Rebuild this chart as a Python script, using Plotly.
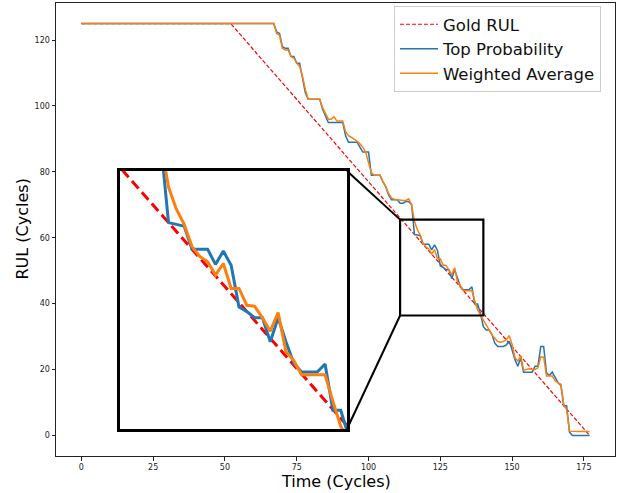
import plotly.graph_objects as go

cycles = list(range(0, 178))

top_probability = [
    125, 125, 125, 125, 125, 125, 125, 125, 125, 125,
    125, 125, 125, 125, 125, 125, 125, 125, 125, 125,
    125, 125, 125, 125, 125, 125, 125, 125, 125, 125,
    125, 125, 125, 125, 125, 125, 125, 125, 125, 125,
    125, 125, 125, 125, 125, 125, 125, 125, 125, 125,
    125, 125, 125, 125, 125, 125, 125, 125, 125, 125,
    125, 125, 125, 125, 125, 125, 125, 125,
    122.5, 122, 118, 117.5, 117.5, 115, 115, 113, 113, 109,
    104, 102, 102, 102, 102, 102, 99, 97, 95, 95,
    95, 95, 95, 95, 91, 89, 89, 89, 89, 87.5,
    86, 86, 86, 79, 79, 79, 79, 77, 75.5, 73,
    71.5, 71.5, 71.5, 70.5, 70.5, 71, 71, 70, 61, 60.8,
    60.6, 58, 58, 58, 56.3, 57.8, 56.2, 51.5, 51, 50.3,
    50.3, 47.6, 50.3, 47.6, 45.2, 44.2, 44.2, 44.2, 45.1, 39.9,
    39.9, 37, 33, 32, 32, 30.6, 28, 27, 27, 27,
    27.5, 28.6, 26, 23, 21, 23.5, 19.2, 19.2, 19.2, 19.2,
    21, 21, 27, 27, 19, 18.2, 19.2, 17.5, 16, 15.2,
    9, 9, 1, 0, 0, 0, 0, 0, 0, 0,
]

weighted_average = [
    125, 125, 125, 125, 125, 125, 125, 125, 125, 125,
    125, 125, 125, 125, 125, 125, 125, 125, 125, 125,
    125, 125, 125, 125, 125, 125, 125, 125, 125, 125,
    125, 125, 125, 125, 125, 125, 125, 125, 125, 125,
    125, 125, 125, 125, 125, 125, 125, 125, 125, 125,
    125, 125, 125, 125, 125, 125, 125, 125, 125, 125,
    125, 125, 125, 125, 125, 125, 125, 125,
    122, 121.5, 117.5, 117, 117, 115, 114.5, 113, 112, 109,
    105, 102, 102, 102, 102, 102, 99.5, 97.5, 96, 96,
    96.7, 95.4, 95.4, 95.4, 92.3, 91, 90.5, 90, 89.3, 88.5,
    87.5, 86, 83, 79.7, 79, 79, 79, 77, 75.5, 73.5,
    72, 71.7, 71.5, 71.3, 71.3, 71.3, 71.8, 70, 65, 62.5,
    60.8, 58.3, 57.2, 56.6, 55.1, 56.4, 53.6, 53.6, 51.7, 51.6,
    50.3, 48.8, 50.9, 46.5, 45.5, 43.9, 43.9, 43.9, 43.9, 40.9,
    38.1, 36.5, 35, 33.5, 32, 30.5, 29.5, 28.5, 28.3, 28.5,
    29.1, 30.3, 27.6, 23.6, 22.6, 24.1, 19.8, 20, 20.2, 20,
    20, 20.5, 23.8, 23.8, 18, 18, 18, 16.5, 16, 15.5,
    9.4, 7.9, 1.3, 1.2, 1.2, 1.2, 1.2, 1.2, 1.2, 1.2,
]

gold_cycles = [0, 52, 177]
gold_rul = [125, 125, 0]

x_ticks = [0, 25, 50, 75, 100, 125, 150, 175]
y_ticks = [0, 20, 40, 60, 80, 100, 120]

zoom_box_x = [111, 140]
zoom_box_y = [36.4, 65.5]
inset_x = [109.8, 138.8]
inset_y = [37.8, 66.8]

BLUE = "#1f77b4"
ORANGE = "#ff7f0e"
RED = "#ff0000"

X_RANGE = [-8.85, 185.85]
Y_RANGE = [-6.25, 131.25]

fig = go.Figure()

# main traces
fig.add_trace(go.Scatter(x=gold_cycles, y=gold_rul, mode="lines", name="Gold RUL",
                         line=dict(color=RED, width=1.2, dash="4px,2px"),
                         xaxis="x", yaxis="y"))
fig.add_trace(go.Scatter(x=cycles, y=top_probability, mode="lines", name="Top Probability",
                         line=dict(color=BLUE, width=1.5), xaxis="x", yaxis="y"))
fig.add_trace(go.Scatter(x=cycles, y=weighted_average, mode="lines", name="Weighted Average",
                         line=dict(color=ORANGE, width=1.5), xaxis="x", yaxis="y"))

# inset traces
fig.add_trace(go.Scatter(x=gold_cycles, y=gold_rul, mode="lines", showlegend=False,
                         line=dict(color=RED, width=3, dash="10px,5px"),
                         xaxis="x2", yaxis="y2"))
fig.add_trace(go.Scatter(x=cycles, y=top_probability, mode="lines", showlegend=False,
                         line=dict(color=BLUE, width=3), xaxis="x2", yaxis="y2"))
fig.add_trace(go.Scatter(x=cycles, y=weighted_average, mode="lines", showlegend=False,
                         line=dict(color=ORANGE, width=3), xaxis="x2", yaxis="y2"))

W, H = 622, 493
ML, MR, MT, MB = 56, 7, 3, 37
pw = W - ML - MR
ph = H - MT - MB

# inset placement in pixels
ix0, ix1, iy0, iy1 = 120, 347, 171, 429
inset_dom_x = [(ix0 - ML) / pw, (ix1 - ML) / pw]
inset_dom_y = [(H - MB - iy1) / ph, (H - MB - iy0) / ph]

axis_common = dict(showgrid=False, zeroline=False, showline=True, mirror=True,
                   linecolor="#222", linewidth=1, ticks="outside", ticklen=3.5,
                   tickwidth=0.8, tickcolor="#222",
                   tickfont=dict(family="DejaVu Sans", size=8, color="#222"))

fig.update_layout(
    width=W, height=H,
    margin=dict(l=ML, r=MR, t=MT, b=MB),
    paper_bgcolor="white", plot_bgcolor="white",
    font=dict(family="DejaVu Sans"),
    xaxis=dict(range=X_RANGE, tickvals=x_ticks, domain=[0, 1], **axis_common),
    yaxis=dict(range=Y_RANGE, tickvals=y_ticks, domain=[0, 1], **axis_common),
    xaxis2=dict(range=inset_x, domain=inset_dom_x, anchor="y2", showgrid=False,
                zeroline=False, showticklabels=False, ticks="", showline=True,
                mirror=True, linecolor="black", linewidth=2.5),
    yaxis2=dict(range=inset_y, domain=inset_dom_y, anchor="x2", showgrid=False,
                zeroline=False, showticklabels=False, ticks="", showline=True,
                mirror=True, linecolor="black", linewidth=2.5),
    legend=dict(x=(601 - ML) / pw, y=(H - MB - 6) / ph, xanchor="right", yanchor="top",
                bgcolor="rgba(255,255,255,0.8)", bordercolor="#cccccc", borderwidth=1,
                itemwidth=38, tracegroupgap=0,
                font=dict(family="DejaVu Sans", size=16.5, color="#111")),
    showlegend=True,
)

# axis titles as annotations
fig.add_annotation(text="Time (Cycles)", xref="paper", yref="paper", x=0.5,
                   y=(H - MB - 481) / ph, xanchor="center", yanchor="middle",
                   showarrow=False, font=dict(family="DejaVu Sans", size=16, color="black"))
fig.add_annotation(text="RUL (Cycles)", xref="paper", yref="paper", x=(22 - ML) / pw,
                   y=0.5, xanchor="center", yanchor="middle", textangle=-90,
                   showarrow=False, font=dict(family="DejaVu Sans", size=16, color="black"))

# zoom box in main axes
fig.add_shape(type="rect", xref="x", yref="y", x0=zoom_box_x[0], x1=zoom_box_x[1],
              y0=zoom_box_y[0], y1=zoom_box_y[1], line=dict(color="black", width=2.2),
              layer="above")


def to_paper_x(v):
    return (v - X_RANGE[0]) / (X_RANGE[1] - X_RANGE[0])


def to_paper_y(v):
    return (v - Y_RANGE[0]) / (Y_RANGE[1] - Y_RANGE[0])


# connector lines: inset right corners -> box left corners
fig.add_shape(type="line", xref="paper", yref="paper",
              x0=inset_dom_x[1], y0=inset_dom_y[1],
              x1=to_paper_x(zoom_box_x[0]), y1=to_paper_y(zoom_box_y[1]),
              line=dict(color="black", width=2), layer="above")
fig.add_shape(type="line", xref="paper", yref="paper",
              x0=inset_dom_x[1], y0=inset_dom_y[0],
              x1=to_paper_x(zoom_box_x[0]), y1=to_paper_y(zoom_box_y[0]),
              line=dict(color="black", width=2), layer="above")

fig.write_html("out.html", config={"displayModeBar": False},
               post_script="document.body.style.margin='0';")
